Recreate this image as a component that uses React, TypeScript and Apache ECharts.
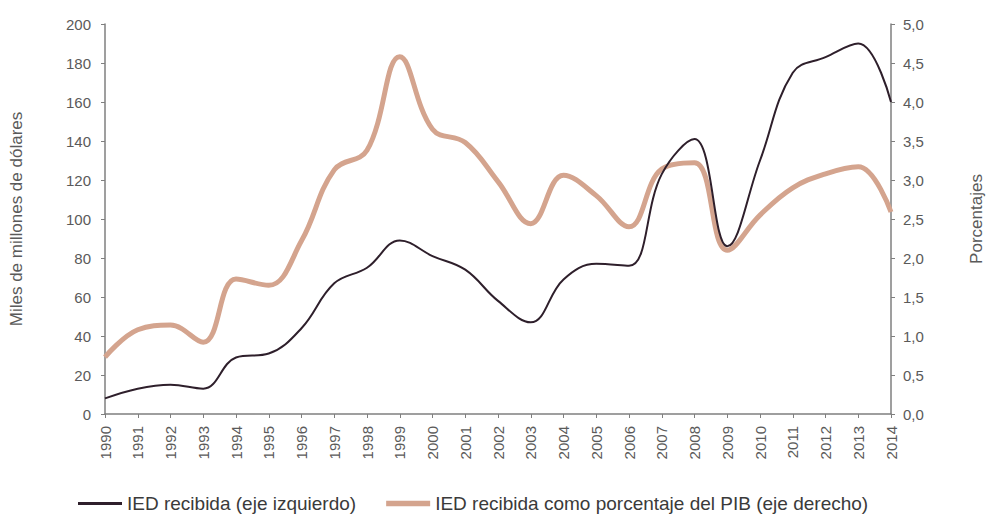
import React, { useEffect, useRef } from "react";
import * as echarts from "echarts";

const years = [
  "1990", "1991", "1992", "1993", "1994", "1995", "1996", "1997", "1998", "1999",
  "2000", "2001", "2002", "2003", "2004", "2005", "2006", "2007", "2008", "2009",
  "2010", "2011", "2012", "2013", "2014",
];

// IED recibida (miles de millones de dólares) - eje izquierdo
const iedRecibida = [
  8, 13, 15, 13, 29, 31, 44, 67, 75, 89,
  81, 74, 58, 47, 69, 77, 76, 123, 141, 86,
  130, 175, 183, 190, 160,
];

// IED recibida como porcentaje del PIB - eje derecho
const iedPorcentaje = [
  0.73, 1.08, 1.14, 0.92, 1.73, 1.65, 2.22, 3.13, 3.38, 4.58,
  3.65, 3.48, 2.98, 2.44, 3.06, 2.8, 2.4, 3.14, 3.22, 2.1,
  2.55, 2.9, 3.08, 3.17, 2.59,
];

const leftTicks = { min: 0, max: 200, interval: 20 };
const rightTicks = { min: 0, max: 5, interval: 0.5 };

const seriesNames = [
  "IED recibida (eje izquierdo)",
  "IED recibida como porcentaje del PIB (eje derecho)",
];

export default function App() {
  const ref = useRef<HTMLDivElement>(null);
  useEffect(() => {
    if (!ref.current) return;
    const chart = echarts.init(ref.current, null, { renderer: "svg" });
    const font = "Liberation Sans, Arial, sans-serif";
    const labelColor = "#5a5a5a";
    const axisColor = "#7f7f7f";
    const blackColor = "#2e1f2b";
    const orangeColor = "#d4a48e";
    chart.setOption({
      animation: false,
      textStyle: { fontFamily: font },
      grid: { left: 98, right: 85, top: 24, bottom: 104, containLabel: false },
      legend: {
        left: 73,
        top: 489,
        itemWidth: 44,
        itemHeight: 14,
        itemGap: 30,
        textStyle: { fontSize: 19, color: "#3a3a3a", fontFamily: font },
        data: [
          { name: seriesNames[0], icon: "path://M0,0L15,0L15,1L0,1Z", itemStyle: { color: blackColor } },
          { name: seriesNames[1], icon: "path://M0,0L8,0L8,1L0,1Z", itemStyle: { color: orangeColor } },
        ],
      },
      xAxis: {
        type: "category",
        data: years,
        boundaryGap: false,
        axisLine: { lineStyle: { color: axisColor, width: 1.5 } },
        axisTick: { show: true, length: 4, alignWithLabel: true, lineStyle: { color: axisColor } },
        axisLabel: { rotate: 90, fontSize: 15, color: labelColor, margin: 12, interval: 0 },
        splitLine: { show: false },
      },
      yAxis: [
        {
          type: "value",
          min: leftTicks.min,
          max: leftTicks.max,
          interval: leftTicks.interval,
          name: "Miles de millones de dólares",
          nameLocation: "middle",
          nameGap: 80,
          nameRotate: 90,
          nameTextStyle: { fontSize: 17, color: labelColor },
          axisLine: { show: true, lineStyle: { color: axisColor, width: 1.5 } },
          axisTick: { show: true, length: 4, lineStyle: { color: axisColor } },
          axisLabel: { fontSize: 15, color: labelColor, margin: 14 },
          splitLine: { show: false },
        },
        {
          type: "value",
          min: rightTicks.min,
          max: rightTicks.max,
          interval: rightTicks.interval,
          position: "right",
          name: "Porcentajes",
          nameLocation: "middle",
          nameGap: 77,
          nameRotate: 90,
          nameTextStyle: { fontSize: 17, color: labelColor },
          axisLine: { show: true, lineStyle: { color: axisColor, width: 1.5 } },
          axisTick: { show: true, length: 4, lineStyle: { color: axisColor } },
          axisLabel: {
            fontSize: 15,
            color: labelColor,
            margin: 12,
            formatter: (v: number) => v.toFixed(1).replace(".", ","),
          },
          splitLine: { show: false },
        },
      ],
      series: [
        {
          name: seriesNames[1],
          type: "line",
          yAxisIndex: 1,
          data: iedPorcentaje,
          smooth: 0.4,
          showSymbol: false,
          lineStyle: { color: orangeColor, width: 5 },
          itemStyle: { color: orangeColor },
          z: 2,
        },
        {
          name: seriesNames[0],
          type: "line",
          yAxisIndex: 0,
          data: iedRecibida,
          smooth: 0.4,
          showSymbol: false,
          lineStyle: { color: blackColor, width: 2 },
          itemStyle: { color: blackColor },
          z: 3,
        },
      ],
    });
    return () => chart.dispose();
  }, []);
  return <div ref={ref} style={{ width: 993, height: 518, position: "absolute", left: 0, top: 0 }} />;
}
